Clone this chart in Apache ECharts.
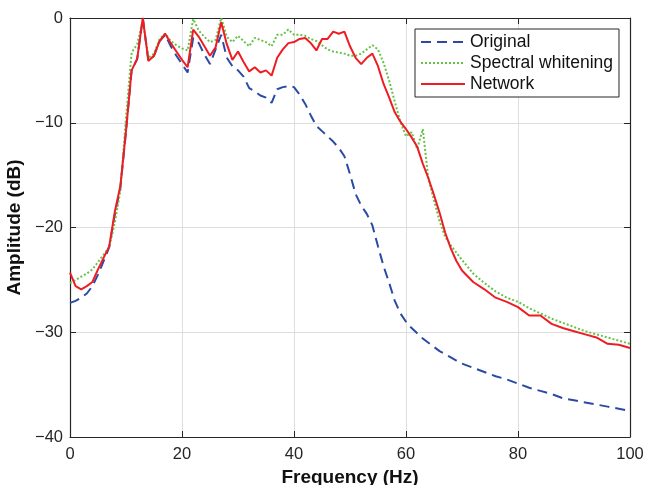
<!DOCTYPE html>
<html>
<head>
<meta charset="utf-8">
<script src="https://cdn.jsdelivr.net/npm/echarts@6/dist/echarts.min.js"></script>
<style>
  html, body { margin: 0; padding: 0; background: #fff; }
  #main { width: 645px; height: 485px; }
</style>
</head>
<body>
<div id="main"></div>
<script>
// 频率 (Hz)
const freq = [
  0, 1, 2, 3, 4, 5, 6, 7, 8, 9, 10, 11, 12, 13, 14, 15, 16, 17, 18, 19,
  20, 21, 22, 23, 24, 25, 26, 27, 28, 29, 30, 31, 32, 33, 34, 35, 36, 37, 38, 39,
  40, 41, 42, 43, 44, 45, 46, 47, 48, 49, 50, 51, 52, 53, 54, 55, 56, 57, 58, 59,
  60, 61, 62, 63, 64, 65, 66, 67, 68, 69, 70, 72, 74, 76, 78, 80, 82, 84, 86, 88,
  90, 92, 94, 96, 98, 100
];

const original = [
  -27.2, -27.0, -26.7, -26.3, -25.6, -24.5, -23.2, -21.9, -18.8, -16.2,
  -10.8, -5.0, -3.9, 0, -4.1, -3.6, -2.2, -1.6, -2.7, -3.6,
  -4.4, -5.2, -1.9, -2.4, -3.5, -4.4, -3.0, -1.6, -3.8, -4.6,
  -5.0, -5.6, -6.7, -7.0, -7.4, -7.6, -8.1, -6.8, -6.6, -6.5,
  -6.6, -7.3, -8.2, -9.3, -10.3, -10.8, -11.3, -11.8, -12.4, -13.2,
  -14.9, -16.8, -17.9, -18.7, -19.8, -21.8, -23.7, -25.3, -27.0, -28.2,
  -29.0, -29.6, -30.1, -30.6, -31.0, -31.4, -31.8, -32.1, -32.4, -32.7,
  -33.0, -33.4, -33.8, -34.2, -34.5, -34.9, -35.3, -35.6, -35.9, -36.3,
  -36.5, -36.7, -36.9, -37.1, -37.3, -37.5
];

const whitening = [
  -25.3, -25.0, -24.7, -24.4, -24.0, -23.3, -22.6, -21.9, -19.5, -16.5,
  -9.5, -3.3, -2.5, -0.2, -3.8, -3.4, -2.0, -1.5, -2.2, -2.6,
  -2.9, -3.1, -0.1, -1.2, -1.8, -2.3, -2.1, 0, -1.8, -2.3,
  -1.7, -2.2, -2.7, -1.9, -2.1, -2.3, -2.7, -1.6, -1.6, -1.1,
  -1.6, -1.6, -1.7, -2.0, -2.2, -2.6, -3.0, -3.2, -3.3, -3.4,
  -3.6, -3.6, -3.4, -3.0, -2.6, -3.0, -4.3, -6.0, -8.0, -9.9,
  -11.3, -10.9, -12.5, -10.6, -15.4, -17.4, -19.4, -20.9, -21.7, -22.4,
  -23.1, -24.4, -25.3, -26.1, -26.7, -27.1, -27.7, -28.2, -28.7, -29.1,
  -29.5, -29.9, -30.2, -30.5, -30.8, -31.1
];

const network = [
  -24.3, -25.6, -25.9, -25.6, -25.2, -24.0, -22.9, -21.8, -18.5, -16.0,
  -10.8, -5.0, -3.9, 0, -4.1, -3.6, -2.2, -1.5, -2.4, -3.2,
  -4.0, -4.7, -1.1, -1.8, -2.7, -3.6, -2.8, -0.4, -2.5, -4.0,
  -3.2, -4.2, -5.1, -4.7, -5.2, -5.0, -5.5, -3.8, -3.0, -2.4,
  -2.3, -2.0, -1.9, -2.4, -3.1, -2.0, -2.0, -1.3, -1.5, -1.3,
  -2.7, -3.8, -4.4, -3.8, -3.4, -4.6, -6.3, -7.6, -9.0, -9.9,
  -10.6, -11.4, -12.3, -13.9, -15.3, -16.9, -18.6, -20.5, -22.0, -23.2,
  -24.1, -25.2, -25.9, -26.7, -27.1, -27.6, -28.4, -28.4, -29.2, -29.6,
  -29.9, -30.2, -30.5, -31.1, -31.2, -31.5
];

const pairs = (ys) => freq.map((f, i) => [f, ys[i]]);
const font = "'Liberation Sans', Arial, sans-serif";
const minus = (v) => String(v).replace("-", "\u2212");

const chart = echarts.init(document.getElementById("main"));

const tickStyle = { lineStyle: { color: "#262626", width: 1 } };
const axisLine = { show: true, onZero: false, lineStyle: { color: "#262626", width: 1.2 } };

chart.setOption({
  animation: false,
  grid: { left: 70, right: 15, top: 18, bottom: 48, outerBoundsMode: "none", containLabel: false },
  legend: {
    orient: "vertical",
    left: 415,
    top: 29,
    itemWidth: 44,
    itemHeight: 18,
    itemGap: 3,
    padding: [4, 6, 4, 5],
    borderColor: "#262626",
    borderWidth: 1,
    backgroundColor: "#fff",
    itemStyle: { opacity: 0 },
    textStyle: { fontFamily: font, fontSize: 17.5, color: "#111" },
    data: ["Original", "Spectral whitening", "Network"],
  },
  xAxis: [
    {
      type: "value",
      min: 0,
      max: 100,
      interval: 20,
      name: "Frequency (Hz)",
      nameLocation: "middle",
      nameGap: 30,
      nameTextStyle: { fontFamily: font, fontSize: 19, fontWeight: "bold", color: "#111" },
      axisLine: axisLine,
      axisTick: { show: true, inside: true, length: 6, ...tickStyle },
      axisLabel: { fontFamily: font, fontSize: 16.5, color: "#262626", margin: 9 },
      splitLine: { show: true, lineStyle: { color: "#dedede", width: 1 } },
    },
    {
      type: "value",
      position: "top",
      min: 0,
      max: 100,
      interval: 20,
      axisLine: axisLine,
      axisTick: { show: true, inside: true, length: 6, ...tickStyle },
      axisLabel: { show: false },
      splitLine: { show: false },
    },
  ],
  yAxis: [
    {
      type: "value",
      min: -40,
      max: 0,
      interval: 10,
      name: "Amplitude (dB)",
      nameLocation: "middle",
      nameGap: 43,
      nameTextStyle: { fontFamily: font, fontSize: 19, fontWeight: "bold", color: "#111" },
      axisLine: axisLine,
      axisTick: { show: true, inside: true, length: 6, ...tickStyle },
      axisLabel: { fontFamily: font, fontSize: 16.5, color: "#262626", margin: 7, formatter: minus },
      splitLine: { show: true, lineStyle: { color: "#dedede", width: 1 } },
    },
    {
      type: "value",
      position: "right",
      min: -40,
      max: 0,
      interval: 10,
      axisLine: axisLine,
      axisTick: { show: true, inside: true, length: 6, ...tickStyle },
      axisLabel: { show: false },
      splitLine: { show: false },
    },
  ],
  series: [
    {
      name: "Original",
      type: "line",
      data: pairs(original),
      symbol: "none",
      z: 2,
      lineStyle: { color: "#2a4aa6", width: 2, type: [10, 6] },
      itemStyle: { color: "#2a4aa6" },
    },
    {
      name: "Spectral whitening",
      type: "line",
      data: pairs(whitening),
      symbol: "none",
      z: 3,
      lineStyle: { color: "#66c247", width: 2, type: [2, 2] },
      itemStyle: { color: "#66c247" },
    },
    {
      name: "Network",
      type: "line",
      data: pairs(network),
      symbol: "none",
      z: 4,
      lineStyle: { color: "#ee1d24", width: 2 },
      itemStyle: { color: "#ee1d24" },
    },
  ],
});
</script>
</body>
</html>
